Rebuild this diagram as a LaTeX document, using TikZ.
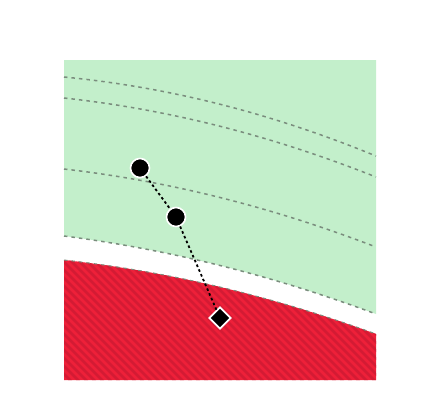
\documentclass[tikz,border=0pt]{standalone}
\usetikzlibrary{shapes.geometric}
\definecolor{zonegreen}{HTML}{C3EFCB}
\definecolor{zonered}{HTML}{EE2039}
\definecolor{stripered}{HTML}{D41B34}
\definecolor{levelgray}{HTML}{7A8C7D}
\tikzset{
  levelline/.style={levelgray, line width=1.5pt, dash pattern=on 3.5pt off 4pt},
  waypoint/.style={circle, fill=black, draw=white, line width=1.6pt, minimum size=19pt, inner sep=0pt},
  goalmark/.style={diamond, fill=black, draw=white, line width=1.8pt, minimum size=22pt, inner sep=0pt},
  trail/.style={black, line width=1.8pt, dash pattern=on 2.6pt off 2.6pt}
}
\begin{document}
\begin{tikzpicture}[x=1pt,y=-1pt]
		%%%%% START %%%%%
		\useasboundingbox (0,0) rectangle (440,416);
		
		\fill[zonegreen] (64,60) -- (376,60) -- (376,314) .. controls (272,275.3) and (168,249.3) .. (64,236) -- cycle;
		\fill[zonered] (64,260) .. controls (168,271.3) and (272,296) .. (376,334) -- (376,380) -- (64,380) -- cycle;
		
		\begin{scope}
			\clip (64,260) .. controls (168,271.3) and (272,296) .. (376,334) -- (376,380) -- (64,380) -- cycle;
			\foreach \s in {-110,-102,...,390}
				\draw[stripered, line width=2.6pt] (\s,240) -- (\s+160,400);
		\end{scope}
		
		\draw[levelline] (64,77) .. controls (168,87) and (272,113.3) .. (376,156);
		\draw[levelline] (64,98) .. controls (168,109.3) and (272,135.7) .. (376,177);
		\draw[levelline] (64,169) .. controls (168,181) and (272,207) .. (376,247);
		\draw[levelline] (64,236) .. controls (168,249.3) and (272,275.3) .. (376,314);
		\draw[levelline, line width=1pt] (64,260) .. controls (168,271.3) and (272,296) .. (376,334);
		
		\node[waypoint] (start) at (140,168) {};
		\node[waypoint] (mid) at (176,217) {};
		\node[goalmark] (goal) at (220,318) {};
		\draw[trail] (start) -- (mid) -- (goal);
		
		%%%%% END %%%%%
\end{tikzpicture}
\end{document}
